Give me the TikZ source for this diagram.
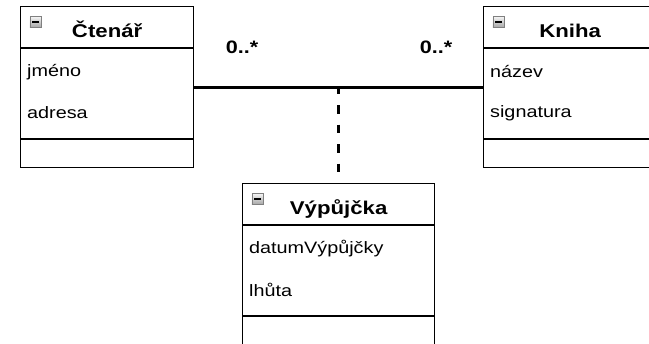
\documentclass[tikz,border=0pt]{standalone}
\usepackage{fontspec}
\usetikzlibrary{calc}
\newfontfamily\umlfont{Liberation Sans}[FakeStretch=1.2]
\begin{document}
\begin{tikzpicture}[x=1pt,y=-1pt,
  classbox/.style={draw=black, line width=1.3pt, minimum width=173pt, minimum height=161pt, inner sep=0pt, anchor=north west},
  divider/.style={line width=1.3pt},
  classtitle/.style={font=\umlfont\fontsize{18.5}{21}\selectfont\bfseries, anchor=base, inner sep=0pt},
  attr/.style={font=\umlfont\fontsize{16.5}{19}\selectfont, anchor=west, inner sep=0pt},
  mult/.style={font=\umlfont\fontsize{18}{21}\selectfont\bfseries, inner sep=0pt},
  assoc/.style={line width=3pt},
  assocclass/.style={line width=3.5pt, dash pattern=on 8.5pt off 11pt, dash phase=1.5pt},
  togglebox/.style={draw=black!50, line width=0.7pt, top color=black!5, bottom color=black!35, minimum width=11pt, minimum height=10.5pt, inner sep=0pt, anchor=north west}
]
\useasboundingbox (0,0) rectangle (649,344);

% class boxes
\node[classbox] (ctenar) at (20,6) {};
\node[classbox] (kniha) at (483,6) {};
\node[classbox, minimum width=192pt, minimum height=165pt] (vypujcka) at (242,183) {};

% compartment dividers and contents
\foreach \cls/\title/\attra/\attrb in {ctenar/Čtenář/jméno/adresa, kniha/Kniha/název/signatura, vypujcka/Výpůjčka/datumVýpůjčky/lhůta} {
  \draw[divider] ($(\cls.north west)+(0,42)$) -- ($(\cls.north east)+(0,42)$);
  \draw[divider] ($(\cls.north west)+(0,133)$) -- ($(\cls.north east)+(0,133)$);
  \node[togglebox] (\cls-toggle) at ($(\cls.north west)+(9.5,10.5)$) {};
  \draw[line width=1.4pt] ($(\cls-toggle.west)+(2.6,0)$) -- ($(\cls-toggle.east)+(-2.6,0)$);
  \node[classtitle] (\cls-title) at ($(\cls.north)+(0,32)$) {\title};
  \node[attr] (\cls-a) at ($(\cls.north west)+(7,66)$) {\attra};
  \node[attr] (\cls-b) at ($(\cls.north west)+(7,107)$) {\attrb};
}

% association with its association class
\draw[assoc] (ctenar.east) -- (kniha.west);
\coordinate (assocmid) at ($(ctenar.east)!0.5!(kniha.west)$);
\draw[assocclass] (assocmid) -- (vypujcka.north);

% multiplicities
\node[mult] (multl) at (242,47) {0..*};
\node[mult] (multr) at (436,47) {0..*};
\end{tikzpicture}
\end{document}
